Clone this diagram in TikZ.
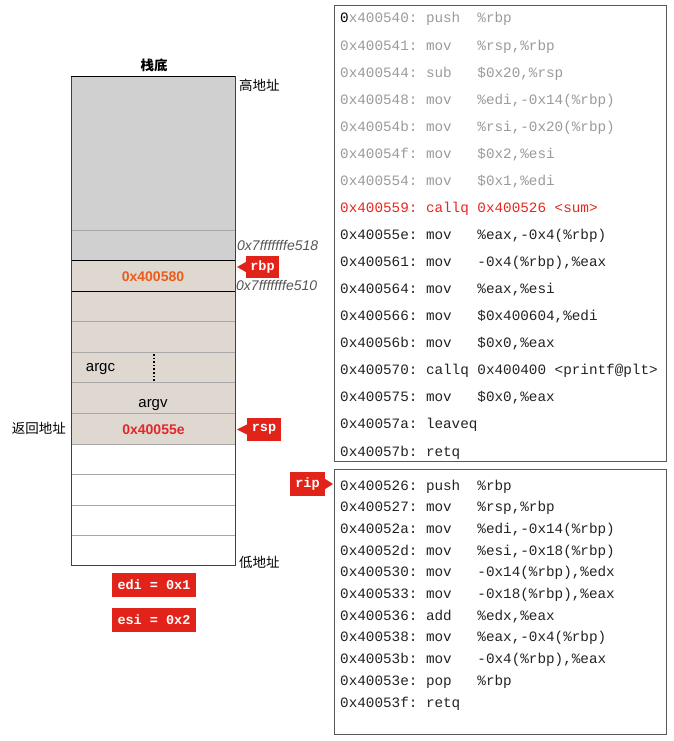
\documentclass[tikz,border=0pt]{standalone}
\usepackage{fontspec}
\setmainfont{Liberation Sans}
\setmonofont{Liberation Mono}
\newfontfamily\cjk{Noto Sans CJK SC}
\definecolor{sgray}{HTML}{D0D0D0}
\definecolor{stan}{HTML}{DFD8D1}
\definecolor{sepgray}{HTML}{A8A8A8}
\definecolor{tagred}{HTML}{E2231A}
\definecolor{valorange}{HTML}{E85D1C}
\definecolor{valred}{HTML}{E3262A}
\definecolor{codegray}{HTML}{9A9A9A}
\definecolor{codered}{HTML}{E8261E}
\definecolor{codedark}{HTML}{222222}
\definecolor{addrgray}{HTML}{555555}
\newcommand\asm[3]{#1:\ \makebox[6\fontcharwd\font`0][l]{#2}#3}
\begin{document}
\begin{tikzpicture}[x=1pt,y=-1pt,
  cell/.style={anchor=north west, minimum width=164pt, inner sep=0pt, outer sep=0pt, draw=none},
  sepline/.style={draw=sepgray, line width=0.8pt},
  blackline/.style={draw=black, line width=1pt},
  stxt/.style={inner sep=0pt, anchor=base, font=\fontsize{15}{17}\selectfont},
  cjktxt/.style={inner sep=0pt, font=\cjk\fontsize{13.5}{15}\selectfont},
  addr/.style={inner sep=0pt, anchor=west, text=addrgray, font=\itshape\fontsize{14}{16}\selectfont},
  tag/.style={fill=tagred, text=white, inner sep=0pt, font=\ttfamily\bfseries\fontsize{13.5}{15}\selectfont},
  codebox/.style={anchor=north west, draw=black!65, line width=0.8pt, minimum width=332pt, inner sep=0pt},
  codeline/.style={anchor=base west, inner sep=0pt, font=\ttfamily\fontsize{14.3}{16}\selectfont}]
\useasboundingbox (0,0) rectangle (673,741);
% stack cells
\node[cell, fill=sgray, minimum height=153pt] (g1) at (71,77) {};
\node[cell, fill=sgray, minimum height=30pt] (g2) at (71,230) {};
\node[cell, fill=stan, minimum height=31pt] (r0) at (71,260) {};
\node[cell, fill=stan, minimum height=30.5pt] (t1) at (71,291) {};
\node[cell, fill=stan, minimum height=30.5pt] (t2) at (71,321.5) {};
\node[cell, fill=stan, minimum height=30.5pt] (t3) at (71,352) {};
\node[cell, fill=stan, minimum height=30.5pt] (t4) at (71,382.5) {};
\node[cell, fill=stan, minimum height=31pt] (t5) at (71,413) {};
\node[cell, fill=white, minimum height=30.5pt] (w1) at (71,444) {};
\node[cell, fill=white, minimum height=30.5pt] (w2) at (71,474.5) {};
\node[cell, fill=white, minimum height=30.5pt] (w3) at (71,505) {};
\node[cell, fill=white, minimum height=29.5pt] (w4) at (71,535.5) {};
\foreach \c in {g1,t1,t2,t3,t4,t5,w1,w2,w3}
  \draw[sepline] (\c.south west) -- (\c.south east);
\draw[blackline] (r0.north west) -- (r0.north east);
\draw[blackline] (r0.south west) -- (r0.south east);
\draw[draw=black!75, line width=1pt] (g1.north west) rectangle (w4.south east);
\draw[blackline] (g1.north west) -- (g1.north east);
% stack texts
\node[inner sep=0pt, font=\cjk\bfseries\fontsize{13.5}{15}\selectfont] (bottom) at (154,65) {栈底};
\node[cjktxt, anchor=west] (high) at (239,85) {高地址};
\node[cjktxt, anchor=west] (low) at (239,562) {低地址};
\node[cjktxt, anchor=east] (ret) at (66,428) {返回地址};
\node[addr] (a518) at (237,245) {0x7fffffffe518};
\node[addr] (a510) at (236,285) {0x7fffffffe510};
\node[inner sep=0pt, text=valorange, font=\bfseries\fontsize{14}{16}\selectfont] (v580) at (153,277) {0x400580};
\node[inner sep=0pt, text=valred, font=\bfseries\fontsize{14}{16}\selectfont] (v55e) at (153.5,430) {0x40055e};
\node[stxt] (argc) at (100.5,371.5) {argc};
\node[stxt] (argv) at (153,407) {argv};
\coordinate (dtop) at (154,354);
\coordinate (dbot) at (154,381);
\draw[dotted, line width=1.6pt] (dtop) -- (dbot);
% tags
\node[tag, minimum width=33pt, minimum height=22pt] (rbp) at (262.5,267) {rbp};
\coordinate (rbptip) at (237,267);
\fill[tagred] ([yshift=5pt]rbp.west) -- (rbptip) -- ([yshift=-5pt]rbp.west) -- cycle;
\node[tag, minimum width=34pt, minimum height=23pt] (rsp) at (264,429.5) {rsp};
\coordinate (rsptip) at (237,429.5);
\fill[tagred] ([yshift=5pt]rsp.west) -- (rsptip) -- ([yshift=-5pt]rsp.west) -- cycle;
\node[tag, minimum width=35pt, minimum height=24pt] (rip) at (307.5,484) {rip};
\coordinate (riptip) at (333,484);
\fill[tagred] ([yshift=5pt]rip.east) -- (riptip) -- ([yshift=-5pt]rip.east) -- cycle;
\node[tag, minimum width=84pt, minimum height=24pt] (edi) at (154,585) {edi = 0x1};
\node[tag, minimum width=84pt, minimum height=24pt] (esi) at (154,620) {esi = 0x2};
% code boxes
\node[codebox, minimum height=456pt] (box1) at (334,5) {};
\node[codebox, minimum height=265pt] (box2) at (334,469) {};
% main code
\node[codeline, text=codegray] (c1) at (340,23) {\textcolor{black}{0}\asm{x400540}{push}{\%rbp}};
\node[codeline, text=codegray] (c2) at (340,50.1) {\asm{0x400541}{mov}{\%rsp,\%rbp}};
\node[codeline, text=codegray] (c3) at (340,77.1) {\asm{0x400544}{sub}{\$0x20,\%rsp}};
\node[codeline, text=codegray] (c4) at (340,104.2) {\asm{0x400548}{mov}{\%edi,-0x14(\%rbp)}};
\node[codeline, text=codegray] (c5) at (340,131.2) {\asm{0x40054b}{mov}{\%rsi,-0x20(\%rbp)}};
\node[codeline, text=codegray] (c6) at (340,158.3) {\asm{0x40054f}{mov}{\$0x2,\%esi}};
\node[codeline, text=codegray] (c7) at (340,185.4) {\asm{0x400554}{mov}{\$0x1,\%edi}};
\node[codeline, text=codered] (c8) at (340,212.4) {\asm{0x400559}{callq}{0x400526 <sum>}};
\node[codeline, text=codedark] (c9) at (340,239.5) {\asm{0x40055e}{mov}{\%eax,-0x4(\%rbp)}};
\node[codeline, text=codedark] (c10) at (340,266.5) {\asm{0x400561}{mov}{-0x4(\%rbp),\%eax}};
\node[codeline, text=codedark] (c11) at (340,293.6) {\asm{0x400564}{mov}{\%eax,\%esi}};
\node[codeline, text=codedark] (c12) at (340,320.7) {\asm{0x400566}{mov}{\$0x400604,\%edi}};
\node[codeline, text=codedark] (c13) at (340,347.7) {\asm{0x40056b}{mov}{\$0x0,\%eax}};
\node[codeline, text=codedark] (c14) at (340,374.8) {\asm{0x400570}{callq}{0x400400 <printf@plt>}};
\node[codeline, text=codedark] (c15) at (340,401.8) {\asm{0x400575}{mov}{\$0x0,\%eax}};
\node[codeline, text=codedark] (c16) at (340,428.9) {\asm{0x40057a}{leaveq}{}};
\node[codeline, text=codedark] (c17) at (340,456) {\asm{0x40057b}{retq}{}};
% sum code
\node[codeline, text=codedark] (d1) at (340,490) {\asm{0x400526}{push}{\%rbp}};
\node[codeline, text=codedark] (d2) at (340,511.7) {\asm{0x400527}{mov}{\%rsp,\%rbp}};
\node[codeline, text=codedark] (d3) at (340,533.4) {\asm{0x40052a}{mov}{\%edi,-0x14(\%rbp)}};
\node[codeline, text=codedark] (d4) at (340,555.1) {\asm{0x40052d}{mov}{\%esi,-0x18(\%rbp)}};
\node[codeline, text=codedark] (d5) at (340,576.8) {\asm{0x400530}{mov}{-0x14(\%rbp),\%edx}};
\node[codeline, text=codedark] (d6) at (340,598.5) {\asm{0x400533}{mov}{-0x18(\%rbp),\%eax}};
\node[codeline, text=codedark] (d7) at (340,620.2) {\asm{0x400536}{add}{\%edx,\%eax}};
\node[codeline, text=codedark] (d8) at (340,641.9) {\asm{0x400538}{mov}{\%eax,-0x4(\%rbp)}};
\node[codeline, text=codedark] (d9) at (340,663.6) {\asm{0x40053b}{mov}{-0x4(\%rbp),\%eax}};
\node[codeline, text=codedark] (d10) at (340,685.3) {\asm{0x40053e}{pop}{\%rbp}};
\node[codeline, text=codedark] (d11) at (340,707) {\asm{0x40053f}{retq}{}};
\end{tikzpicture}
\end{document}
